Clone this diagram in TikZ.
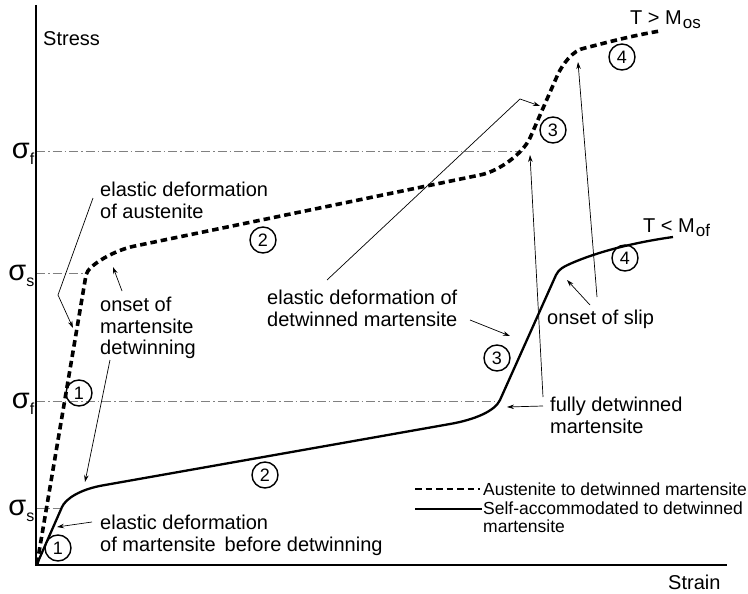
\documentclass[tikz,border=0pt]{standalone}
\usepackage{fontspec}
\setmainfont{Liberation Sans}
\usetikzlibrary{arrows.meta}

\tikzset{
  lbl/.style={inner sep=0pt, align=left, font=\fontsize{20}{21.5}\selectfont},
  legendtxt/.style={inner sep=0pt, align=left, font=\fontsize{17.5}{18}\selectfont},
  num/.style={draw, circle, line width=1.4pt, minimum size=26pt, inner sep=0pt, font=\fontsize{18}{18}\selectfont},
  leader/.style={line width=0.7pt, -{Stealth[length=7pt,width=4.5pt]}},
  level/.style={gray, line width=0.8pt, dash pattern=on 9pt off 3pt on 1.5pt off 3pt},
  ausline/.style={line width=3.6pt, dash pattern=on 6.5pt off 4pt},
  marline/.style={line width=2.3pt},
}

\newcommand{\sigmalevel}[1]{{\fontsize{29}{29}\selectfont σ}\raisebox{-6pt}{\fontsize{16}{16}\selectfont #1}}
\newcommand{\tempsub}[1]{\hspace{1pt}\raisebox{-4pt}{\fontsize{17}{17}\selectfont #1}}

\begin{document}
\begin{tikzpicture}[x=1pt,y=-1pt]

\useasboundingbox (0,0) rectangle (748,594);

\draw [level] (36,151) -- (523,151);
\draw [level] (36,273) -- (86,273);
\draw [level] (36,401) -- (498,401);
\draw [level] (36,508) -- (63,508);

\draw [line width=2.6pt] (36,5) -- (36,565) -- (727,565);

\node (stress) at (43,31) [lbl, anchor=north west] {Stress};
\node (strain) at (668,575) [lbl, anchor=north west] {Strain};

\node (sfup) at (34.5,158.5) [anchor=base east, inner sep=0pt] {\sigmalevel{f}};
\node (ssup) at (34.5,280.5) [anchor=base east, inner sep=0pt] {\sigmalevel{s}};
\node (sflo) at (34.5,408.5) [anchor=base east, inner sep=0pt] {\sigmalevel{f}};
\node (sslo) at (34.5,515.5) [anchor=base east, inner sep=0pt] {\sigmalevel{s}};

\draw [ausline] (37,564) -- (86,275) .. controls (88,265) and (115,250) .. (135,246)
  -- (480,175) .. controls (500,171) and (523,153) .. (530,138)
  -- (558,74) .. controls (562,66) and (572,50) .. (585,48)
  .. controls (605,43) and (630,36) .. (660,31);

\draw [marline] (37,564) -- (62,507) .. controls (65.5,499) and (80,489) .. (105,485)
  -- (450,424) .. controls (475,419.6) and (495,411) .. (500,400)
  -- (556,275) .. controls (559,269) and (563,267) .. (572,263)
  .. controls (595,253) and (630,243) .. (673,237);

\node (tmos) at (630,25) [anchor=base west, inner sep=0pt, font=\fontsize{20}{20}\selectfont] {T > M\tempsub{os}};
\node (tmof) at (643,232) [anchor=base west, inner sep=0pt, font=\fontsize{20}{20}\selectfont] {T < M\tempsub{of}};

\node (a1) at (79,393) [num] {1};
\node (a2) at (263,240) [num] {2};
\node (a3) at (553,130) [num] {3};
\node (a4) at (622,57) [num] {4};

\node (m1) at (58,548) [num] {1};
\node (m2) at (265,475) [num] {2};
\node (m3) at (497,358) [num] {3};
\node (m4) at (625,258) [num] {4};

\node (ausTxt) at (100,182) [lbl, anchor=north west] {elastic deformation\\of austenite};
\node (onsetTxt) at (100,297) [lbl, anchor=north west] {onset of\\martensite\\detwinning};
\node (elmTxt) at (100,515) [lbl, anchor=north west] {elastic deformation\\of martensite\ \,before detwinning};
\node (eldTxt) at (267,290) [lbl, anchor=north west] {elastic deformation of\\detwinned martensite};
\node (slipTxt) at (547,310) [lbl, anchor=north west] {onset of slip};
\node (fullTxt) at (550,397) [lbl, anchor=north west] {fully detwinned\\martensite};

\coordinate (ausFrom) at (93,198);
\coordinate (ausBend) at (58,295);
\coordinate (ausTip) at (73,328);
\draw [leader] (ausFrom) -- (ausBend) -- (ausTip);

\coordinate (onsetUp) at (122,291);
\coordinate (onsetUpTip) at (113,267);
\draw [leader] (onsetUp) -- (onsetUpTip);

\coordinate (onsetDown) at (110,360);
\coordinate (onsetDownTip) at (85,482);
\draw [leader] (onsetDown) -- (onsetDownTip);

\coordinate (elmFrom) at (92,522);
\coordinate (elmTip) at (57,527);
\draw [leader] (elmFrom) -- (elmTip);

\coordinate (eldFrom) at (327,280);
\coordinate (eldBend) at (520,99);
\coordinate (eldTip) at (540,106);
\draw [leader] (eldFrom) -- (eldBend) -- (eldTip);

\coordinate (eldLow) at (470,320);
\coordinate (eldLowTip) at (510,336);
\draw [leader] (eldLow) -- (eldLowTip);

\coordinate (slipFrom) at (590,305);
\coordinate (slipTip) at (567,280);
\draw [leader] (slipFrom) -- (slipTip);

\coordinate (slipLong) at (597,297);
\coordinate (slipLongTip) at (578,62);
\draw [leader] (slipLong) -- (slipLongTip);

\coordinate (fullUp) at (543,397);
\coordinate (fullUpTip) at (530,155);
\draw [leader] (fullUp) -- (fullUpTip);

\coordinate (fullLeft) at (543,406);
\coordinate (fullLeftTip) at (507,407);
\draw [leader] (fullLeft) -- (fullLeftTip);

\draw [ausline, line width=2.4pt] (415,489) -- (480,489);
\draw [marline] (415,509) -- (482,509);
\node (legA) at (483,489) [legendtxt, anchor=west] {Austenite to detwinned martensite};
\node (legB) at (483,502) [legendtxt, anchor=north west] {Self-accommodated to detwinned\\martensite};

\end{tikzpicture}
\end{document}
